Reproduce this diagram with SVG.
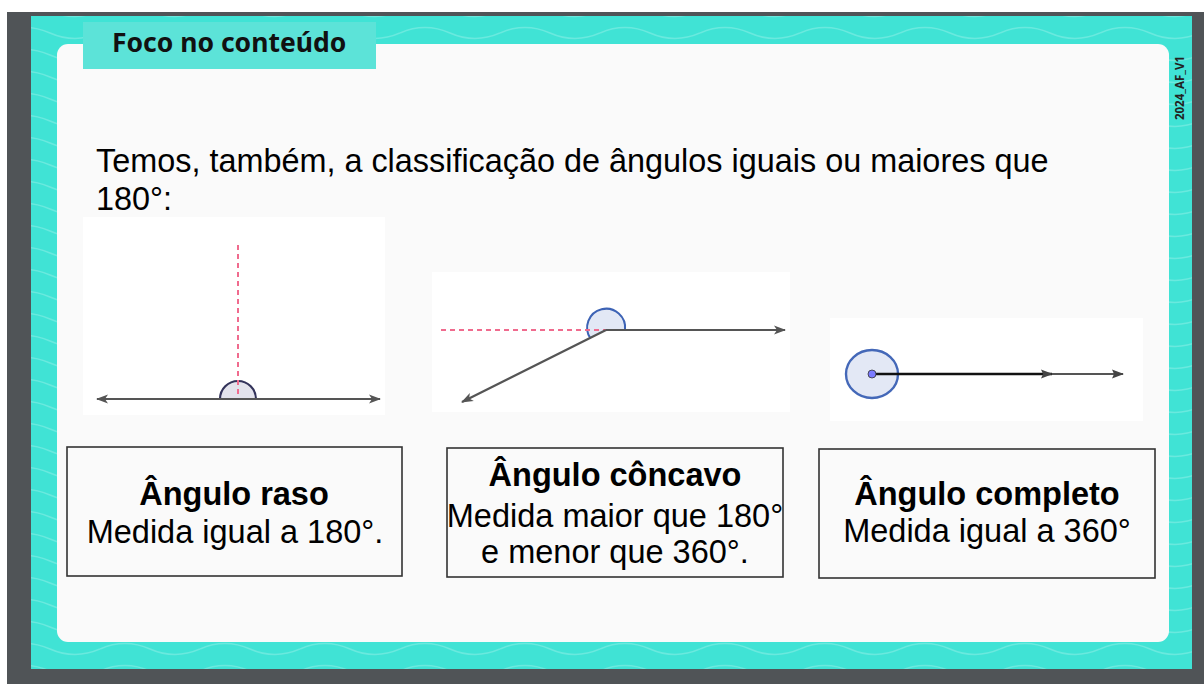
<svg xmlns="http://www.w3.org/2000/svg" width="1204" height="684" viewBox="0 0 1204 684">
<defs>
<style>
.sans{font-family:"Liberation Sans",Arial,sans-serif;fill:#000}
.lbl{font-size:32.5px;text-anchor:middle}
.b{font-weight:bold}
.box{fill:#fafafa;stroke:#333;stroke-width:1.6}
.ray{stroke:#555;stroke-width:2.2;fill:none}
.dash{stroke:#f06b8e;stroke-width:2;stroke-dasharray:5,4;fill:none}
.panel{fill:#ffffff}
</style>
<pattern id="waves" x="0" y="0" width="100" height="22" patternUnits="userSpaceOnUse">
<path d="M0 11 Q25 0 50 11 T100 11" fill="none" stroke="#ffffff" stroke-opacity="0.22" stroke-width="1.5"/>
</pattern>
<marker id="ah" viewBox="0 0 12 10" refX="11" refY="5" markerWidth="14" markerHeight="10" markerUnits="userSpaceOnUse" orient="auto-start-reverse">
<path d="M0 0.5 L12 5 L0 9.5 L3 5 Z" fill="#555"/>
</marker>
<marker id="ah2" viewBox="0 0 12 10" refX="11" refY="5" markerWidth="22" markerHeight="10" markerUnits="userSpaceOnUse" orient="auto">
<path d="M0 0.5 L12 5 L0 9.5 L2 5 Z" fill="#444"/>
</marker>
</defs>
<rect width="1204" height="684" fill="#ffffff"/>
<rect x="7" y="12" width="1197" height="672" fill="#505457"/>
<rect x="31" y="16" width="1161" height="653" fill="#40e3d5"/>
<rect x="31" y="16" width="1161" height="653" fill="url(#waves)"/>
<rect x="57" y="44" width="1112" height="598" rx="11" fill="#fafafa"/>

<g id="title">
<rect x="83" y="22" width="293" height="47" fill="#5ce3d8"/>
<text x="112" y="52" font-family="'Noto Sans',sans-serif" font-weight="bold" font-size="26.5" fill="#111">Foco no conteúdo</text>
</g>
<g id="code">
<text transform="translate(1184,88) rotate(-90)" text-anchor="middle" font-family="'Noto Sans',sans-serif" font-weight="bold" font-size="11.5" fill="#222">2024_AF_V1</text>
</g>

<g id="intro" class="sans">
<text x="96" y="172" font-size="32.4">Temos, também, a classificação de ângulos iguais ou maiores que</text>
<text x="96" y="210" font-size="32.4">180°:</text>
</g>

<g id="fig-raso">
<rect class="panel" x="83" y="217" width="302" height="198"/>
<path d="M220 399 A18 18 0 0 1 256 399 Z" fill="#e3e3ec" stroke="#33335a" stroke-width="2.2"/>
<line class="dash" x1="238" y1="245" x2="238" y2="399"/>
<line class="ray" x1="97" y1="399" x2="380" y2="399" marker-start="url(#ah)" marker-end="url(#ah)"/>
</g>

<g id="fig-concavo">
<rect class="panel" x="432" y="272" width="358" height="140"/>
<path d="M606 330 L590.5 338.5 A19 19 0 1 1 625 330 Z" fill="#e2e8f5" stroke="none"/>
<path d="M590.5 338.5 A19 19 0 1 1 625 330" fill="none" stroke="#3d63b5" stroke-width="2"/>
<line class="dash" x1="441" y1="330" x2="606" y2="330"/>
<line class="ray" x1="606" y1="330" x2="785" y2="330" marker-end="url(#ah)"/>
<line class="ray" x1="606" y1="330" x2="462" y2="402" marker-end="url(#ah)"/>
</g>

<g id="fig-completo">
<rect class="panel" x="830" y="318" width="313" height="103"/>
<ellipse cx="872" cy="374" rx="26" ry="24" fill="#e3e8f5" stroke="#4468b8" stroke-width="2.4"/>
<line x1="872" y1="374" x2="1052" y2="374" stroke="#111" stroke-width="2.6" marker-end="url(#ah2)"/>
<line x1="1052" y1="374" x2="1123" y2="374" stroke="#555" stroke-width="1.8" marker-end="url(#ah2)"/>
<circle cx="872" cy="374" r="4" fill="#7b7bff" stroke="#333" stroke-width="0.8"/>
</g>

<g id="box-raso" class="sans">
<rect class="box" x="67" y="447" width="335" height="129"/>
<text class="lbl b" x="234" y="505">Ângulo raso</text>
<text class="lbl" x="235" y="543">Medida igual a 180°.</text>
</g>
<g id="box-concavo" class="sans">
<rect class="box" x="447" y="448" width="336" height="129"/>
<text class="lbl b" x="615" y="486">Ângulo côncavo</text>
<text class="lbl" x="615" y="527">Medida maior que 180°</text>
<text class="lbl" x="615" y="563">e menor que 360°.</text>
</g>
<g id="box-completo" class="sans">
<rect class="box" x="819" y="449" width="336" height="129"/>
<text class="lbl b" x="987" y="505">Ângulo completo</text>
<text class="lbl" x="987" y="542">Medida igual a 360°</text>
</g>
<g id="connectors"/>
</svg>
